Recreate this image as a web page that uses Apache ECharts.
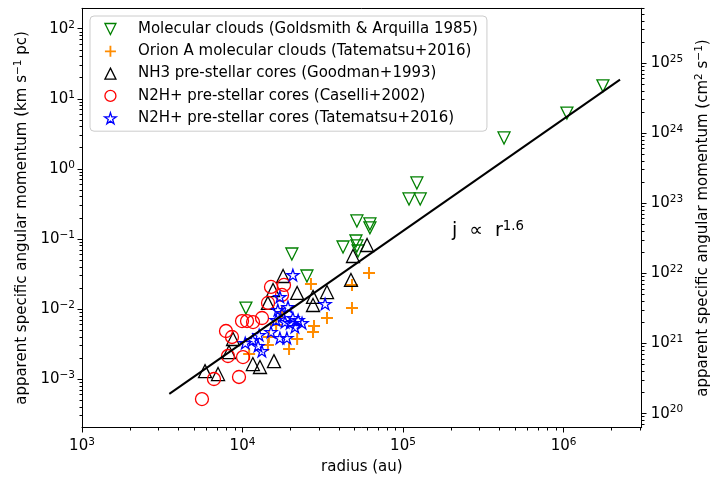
<!DOCTYPE html>
<html><head><meta charset="utf-8">
<script src="https://cdn.jsdelivr.net/npm/echarts@6/dist/echarts.min.js"></script>
<style>html,body{margin:0;padding:0;background:#fff}#c{width:710px;height:479px}</style>
</head><body><div id="c"></div>
<script>
// ---------- data (radius in au, j in km s^-1 pc) ----------
const seriesNames = [
  'Molecular clouds (Goldsmith & Arquilla 1985)',
  'Orion A molecular clouds (Tatematsu+2016)',
  'NH3 pre-stellar cores (Goodman+1993)',
  'N2H+ pre-stellar cores (Caselli+2002)',
  'N2H+ pre-stellar cores (Tatematsu+2016)'
];
const molecularClouds = [
  [1.76e6, 15.4], [1.05e6, 6.3], [4.26e5, 2.78], [1.22e5, 0.634], [1.09e5, 0.375],
  [1.28e5, 0.375], [5.16e4, 0.182], [6.22e4, 0.165], [6.22e4, 0.145], [4.23e4, 0.0773],
  [5.09e4, 0.0942], [5.16e4, 0.080], [5.25e4, 0.0678], [2.03e4, 0.0614], [2.52e4, 0.0298],
  [1.05e4, 0.0104]
];
const orionA = [
  [6.14e4, 0.0329], [4.81e4, 0.0222], [4.81e4, 0.0104], [2.67e4, 0.0229], [3.36e4, 0.0075],
  [2.79e4, 0.00576], [2.75e4, 0.00473], [2.19e4, 0.00376], [1.95e4, 0.00271], [1.46e4, 0.00402],
  [1.44e4, 0.00309], [1.62e4, 0.00596], [1.10e4, 0.0023], [1.76e4, 0.00913]
];
const nh3Cores = [
  [5840, 0.00131], [7040, 0.00119], [8730, 0.00376], [8240, 0.00245], [1.16e4, 0.00165],
  [1.285e4, 0.0015], [1.57e4, 0.00182], [1.44e4, 0.0123], [1.55e4, 0.0188], [1.79e4, 0.0298],
  [2.19e4, 0.0171], [2.75e4, 0.015], [2.75e4, 0.0115], [3.36e4, 0.0176], [4.74e4, 0.0262],
  [4.88e4, 0.0575], [5.97e4, 0.0826]
];
const n2hCaselli = [
  [5590, 0.000523], [6640, 0.00101], [9510, 0.00108], [7890, 0.00489], [8600, 0.00402],
  [8120, 0.00215], [1.007e4, 0.00208], [9930, 0.00679], [1.067e4, 0.00679], [1.163e4, 0.00657],
  [1.323e4, 0.0075], [1.442e4, 0.0123], [1.505e4, 0.0208], [1.814e4, 0.0222], [1.762e4, 0.016]
];
const n2hTatematsu = [
  [2.06e4, 0.0308], [1.71e4, 0.015], [1.66e4, 0.00975], [1.92e4, 0.0108], [3.27e4, 0.0119],
  [2.06e4, 0.0075], [2.22e4, 0.0070], [2.35e4, 0.00636], [1.98e4, 0.00636], [2.12e4, 0.00558],
  [1.84e4, 0.00657], [1.71e4, 0.00389], [1.89e4, 0.00389], [1.505e4, 0.00473], [1.62e4, 0.0070],
  [1.27e4, 0.00429], [1.16e4, 0.00364], [1.04e4, 0.0033], [1.25e4, 0.0030], [1.32e4, 0.00253],
  [1.76e4, 0.00884]
];
const fitLine = [[3500, 6.2e-4], [2.25e6, 18.9]];
const fitLabel = 'j  \u221d  r';
const fitExponent = '1.6';

// axis limits / tick labels
const xLimits = [1e3, 3.07e6];
const yLimits = [2.04e-4, 197];
const J_TO_CGS = 3.0857e23;   // 1 km s^-1 pc in cm^2 s^-1
const xTickExponents = [3, 4, 5, 6];
const yTickExponents = [-3, -2, -1, 0, 1, 2];
const yRightTickExponents = [20, 21, 22, 23, 24, 25];

// ---------- helpers ----------
const FONT = 'DejaVu Sans';
const FS = 15, FSS = 10.5;
const L = Math.log10;
const X0 = L(xLimits[0]), X1 = L(xLimits[1]);
const Y0 = L(yLimits[0]), Y1 = L(yLimits[1]);
const OFF = L(J_TO_CGS);
const toLog = arr => arr.map(p => [L(p[0]), L(p[1])]);

function powLabel(list) {
  return function (v) {
    const n = Math.round(v);
    if (Math.abs(v - n) > 1e-6 || list.indexOf(n) < 0) return '';
    return '{b|10}{s|' + (n < 0 ? '\u2212' + (-n) : n) + '}';
  };
}
const labelRich = {
  b: { fontSize: FS, fontFamily: FONT, color: '#000' },
  s: { fontSize: FSS, fontFamily: FONT, color: '#000', padding: [0, 0, 8, 0] }
};
function minorLogs(lo, hi) {
  const out = [];
  for (let n = Math.floor(lo) - 1; n <= Math.ceil(hi); n++)
    for (let k = 2; k <= 9; k++) {
      const v = n + L(k);
      if (v >= lo - 1e-9 && v <= hi + 1e-9) out.push(v);
    }
  return out;
}
const MAJ = 5, MIN = 3;
function tickList(major, lo, hi) {
  return major.map(v => [v, MAJ]).concat(minorLogs(lo, hi).map(v => [v, MIN]));
}

const DOWN_TRI = 'path://M0,0L2,0L1,2Z';
const UP_TRI = 'path://M1,0L2,2L0,2Z';
const PLUS = 'path://M5,0H7V5H12V7H7V12H5V7H0V5H5Z';
const STAR = 'path://M100,0L77.55,69.1L4.89,69.1L63.67,111.8L41.22,180.9L100,138.2L158.78,180.9L136.33,111.8L195.11,69.1L122.45,69.1Z';
const NONE = 'rgba(0,0,0,0)';

const styles = [
  { symbol: DOWN_TRI, size: 12, itemStyle: { color: NONE, borderColor: '#008000', borderWidth: 1.3, opacity: 1 } },
  { symbol: PLUS, size: 12, itemStyle: { color: '#ff8c00', borderWidth: 0, opacity: 1 } },
  { symbol: UP_TRI, size: 13, itemStyle: { color: NONE, borderColor: '#000000', borderWidth: 1.3, opacity: 1 } },
  { symbol: 'circle', size: 13, itemStyle: { color: NONE, borderColor: '#ff0000', borderWidth: 1.3, opacity: 1 } },
  { symbol: STAR, size: 12, itemStyle: { color: NONE, borderColor: '#0000ff', borderWidth: 1.3, opacity: 1 } }
];
const datasets = [molecularClouds, orionA, nh3Cores, n2hCaselli, n2hTatematsu];

const scatterSeries = datasets.map((d, i) => ({
  name: seriesNames[i], type: 'scatter', data: toLog(d),
  symbol: styles[i].symbol, symbolSize: styles[i].size, symbolKeepAspect: true,
  itemStyle: styles[i].itemStyle, z: 2, silent: true
}));

const chart = echarts.init(document.getElementById('c'), null, { renderer: 'canvas' });
chart.setOption({
  animation: false,
  backgroundColor: '#fff',
  textStyle: { fontFamily: FONT },
  grid: { left: 82, right: 68.3, top: 8.3, bottom: 51.3, outerBoundsMode: 'none', containLabel: false },
  legend: {
    orient: 'vertical', left: 90, top: 16, padding: [5, 9, 5, 14],
    itemWidth: 45, itemHeight: 11, itemGap: 6.3, selectedMode: false,
    backgroundColor: 'rgba(255,255,255,0.8)', borderColor: '#cccccc', borderWidth: 1, borderRadius: 4,
    textStyle: { fontSize: FS, fontFamily: FONT, color: '#000', lineHeight: 16 },
    data: seriesNames.map((n, i) => ({ name: n, icon: styles[i].symbol, itemStyle: styles[i].itemStyle }))
  },
  xAxis: [{
    type: 'value', min: X0, max: X1, minInterval: 1, maxInterval: 1,
    name: 'radius (au)', nameLocation: 'middle', nameGap: 32,
    nameTextStyle: { fontSize: FS, fontFamily: FONT, color: '#000' },
    axisLine: { show: true, onZero: false, lineStyle: { color: '#000', width: 1 } },
    axisTick: { show: false }, splitLine: { show: false },
    axisLabel: { margin: 9, formatter: powLabel(xTickExponents), rich: labelRich }
  }, {
    type: 'value', min: X0, max: X1, position: 'top',
    axisLine: { show: true, onZero: false, lineStyle: { color: '#000', width: 1 } },
    axisTick: { show: false }, axisLabel: { show: false }, splitLine: { show: false }
  }],
  yAxis: [{
    type: 'value', min: Y0, max: Y1, minInterval: 1, maxInterval: 1,
    name: 'apparent specific angular momentum (km s{s|\u22121} pc)',
    nameLocation: 'middle', nameRotate: 90, nameGap: 50,
    nameTextStyle: { fontSize: FS, fontFamily: FONT, color: '#000', rich: { s: { fontSize: FSS, padding: [0, 0, 8, 0] } } },
    axisLine: { show: true, onZero: false, lineStyle: { color: '#000', width: 1 } },
    axisTick: { show: false }, splitLine: { show: false },
    axisLabel: { margin: 7, formatter: powLabel(yTickExponents), rich: labelRich }
  }, {
    type: 'value', min: Y0 + OFF, max: Y1 + OFF, minInterval: 1, maxInterval: 1, position: 'right',
    name: 'apparent specific angular momentum (cm{s|2} s{s|\u22121})',
    nameLocation: 'middle', nameRotate: 90, nameGap: 44,
    nameTextStyle: { fontSize: FS, fontFamily: FONT, color: '#000', rich: { s: { fontSize: FSS, padding: [0, 0, 8, 0] } } },
    axisLine: { show: true, onZero: false, lineStyle: { color: '#000', width: 1 } },
    axisTick: { show: false }, splitLine: { show: false },
    axisLabel: { margin: 9, formatter: powLabel(yRightTickExponents), rich: labelRich }
  }],
  series: scatterSeries.concat([{
    type: 'line', data: toLog(fitLine), symbol: 'none', silent: true, z: 3,
    lineStyle: { color: '#000', width: 2 }
  }])
});

// ---------- tick marks placed through the axes' own scales ----------
const crisp = v => Math.floor(v) + 0.5;
const tickGraphics = [];
function tickLine(x1, y1, x2, y2) {
  tickGraphics.push({ type: 'line', silent: true, z: 10,
    shape: { x1: x1, y1: y1, x2: x2, y2: y2 }, style: { stroke: '#000', lineWidth: 1 } });
}
const yBottom = crisp(chart.convertToPixel({ yAxisIndex: 0 }, Y0));
const xLeft = crisp(chart.convertToPixel({ xAxisIndex: 0 }, X0));
const xRight = crisp(chart.convertToPixel({ xAxisIndex: 0 }, X1));
tickList(xTickExponents, X0, X1).forEach(t => {
  const px = crisp(chart.convertToPixel({ xAxisIndex: 0 }, t[0]));
  tickLine(px, yBottom, px, yBottom + t[1]);
});
tickList(yTickExponents, Y0, Y1).forEach(t => {
  const py = crisp(chart.convertToPixel({ yAxisIndex: 0 }, t[0]));
  tickLine(xLeft, py, xLeft - t[1], py);
});
tickList(yRightTickExponents, Y0 + OFF, Y1 + OFF).forEach(t => {
  const py = crisp(chart.convertToPixel({ yAxisIndex: 1 }, t[0]));
  tickLine(xRight, py, xRight + t[1], py);
});
tickGraphics.push({
  type: 'text', left: 452, top: 220, z: 10, silent: true,
  style: {
    text: fitLabel + '{s|' + fitExponent + '}',
    font: '19px "DejaVu Sans"', fill: '#000',
    rich: { s: { fontSize: 13.3, fontFamily: FONT, fill: '#000', padding: [0, 0, 10, 0] } }
  }
});
chart.setOption({ graphic: tickGraphics });
</script></body></html>
